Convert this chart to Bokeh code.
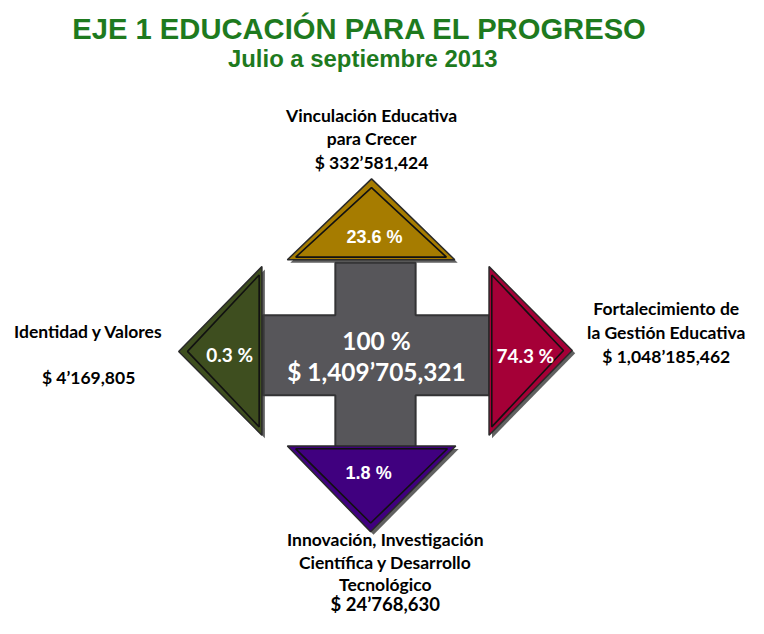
from bokeh.plotting import figure
from bokeh.models import Range1d
from bokeh.core.properties import value
from bokeh.embed import file_html
from bokeh.resources import INLINE

# ---- data ----
title = "EJE 1 EDUCACIÓN PARA EL PROGRESO"
subtitle = "Julio a septiembre 2013"
total_pct = "100 %"
total_amount = "$ 1,409’705,321"
categories = ["Vinculación Educativa para Crecer",
              "Identidad y Valores",
              "Fortalecimiento de la Gestión Educativa",
              "Innovación, Investigación Científica y Desarrollo Tecnológico"]
percentages = [23.6, 0.3, 74.3, 1.8]
amounts = ["$ 332’581,424", "$ 4’169,805", "$ 1,048’185,462", "$ 24’768,630"]
colors = ["#A67C00", "#3E4E1F", "#A50037", "#40007F"]

# ---- figure: reference-pixel coordinates squeezed into the page ----
W, H = 748, 618
S = H / 634.0
def fs(px):
    return f"{px * S:.1f}px"

p = figure(width=W, height=H, output_backend="svg", toolbar_location=None,
           x_range=Range1d(0, 764), y_range=Range1d(634, 0),
           min_border=0)
p.axis.visible = False
p.grid.visible = False
p.outline_line_color = None
p.background_fill_color = "white"

green = "#1E7A1E"
p.text(x=[367], y=[29], text=[title], text_font=value("Liberation Sans"),
       text_font_style="bold", text_font_size=fs(30), text_color=green,
       text_align="center", text_baseline="middle")
p.text(x=[370], y=[60], text=[subtitle], text_font=value("Liberation Sans"),
       text_font_style="bold", text_font_size=fs(24.5), text_color=green,
       text_align="center", text_baseline="middle")

# ---- cross ----
cross_x = [342, 424, 424, 499, 499, 424, 424, 342, 342, 268, 268, 342]
cross_y = [269, 269, 323, 323, 405, 405, 458, 458, 405, 405, 323, 323]
p.patch(cross_x, cross_y, fill_color="#57565A", line_color="#333335", line_width=2)

# ---- triangles ----
tri = [
    ([293, 379, 464], [266, 183, 266]),   # top
    ([267, 182, 267], [273, 360, 446]),   # left
    ([499, 584, 499], [273, 359, 446]),   # right
    ([293, 465, 378], [457, 457, 545]),   # bottom
]

def inset(xs, ys, d):
    cx = sum(xs) / 3.0
    cy = sum(ys) / 3.0
    out_x, out_y = [], []
    for x, y in zip(xs, ys):
        dx, dy = x - cx, y - cy
        L = (dx * dx + dy * dy) ** 0.5
        f = (L - d) / L
        out_x.append(cx + dx * f)
        out_y.append(cy + dy * f)
    return out_x, out_y

for (xs, ys), c in zip(tri, colors):
    p.patch([x + 3 for x in xs], [y + 3 for y in ys], fill_color="#3a3a3a",
            fill_alpha=0.8, line_color=None)
    p.patch(xs, ys, fill_color=c, line_color="#2a2a2a", line_width=1.5)
    ix, iy = inset(xs, ys, 9)
    p.patch(ix, iy, fill_color=None, line_color="#111111", line_width=1.6)

# ---- percentage labels inside triangles ----
pct_txt = [f"{v} %" for v in percentages]
p.text(x=[382], y=[243], text=[pct_txt[0]], text_font=value("Liberation Sans"),
       text_font_style="bold", text_font_size=fs(18.5), text_color="white",
       text_align="center", text_baseline="middle")
p.text(x=[234, 536], y=[363, 364], text=[pct_txt[1], pct_txt[2]],
       text_font=value("Lato"), text_font_style="bold", text_font_size=fs(19.5),
       text_color="white", text_align="center", text_baseline="middle")
p.text(x=[376], y=[485], text=[pct_txt[3]], text_font=value("Liberation Sans"),
       text_font_style="bold", text_font_size=fs(18.5), text_color="white",
       text_align="center", text_baseline="middle")

# ---- centre totals ----
p.text(x=[384, 384], y=[349, 381], text=[total_pct, total_amount],
       text_font=value("Lato"), text_font_style="bold", text_font_size=fs(25),
       text_color="white", text_align="center", text_baseline="middle")

# ---- outer labels ----
lab_font = value("Lato")
def lines(xc, ys, texts, size=18):
    p.text(x=[xc] * len(ys), y=ys, text=texts, text_font=lab_font,
           text_font_style="bold", text_font_size=fs(size), text_color="black",
           text_align="center", text_baseline="middle")

lines(379, [118, 142, 166], ["Vinculación Educativa", "para Crecer", amounts[0]])
lines(90, [340, 387], ["Identidad y Valores", amounts[1]])
lines(680, [316, 341, 365], ["Fortalecimiento de", "la Gestión Educativa", amounts[2]])
lines(393, [553, 577, 599], ["Innovación, Investigación", "Científica y Desarrollo", "Tecnológico"])
lines(393, [619], [amounts[3]], size=19)

open("out.html", "w").write(file_html(p, INLINE))
